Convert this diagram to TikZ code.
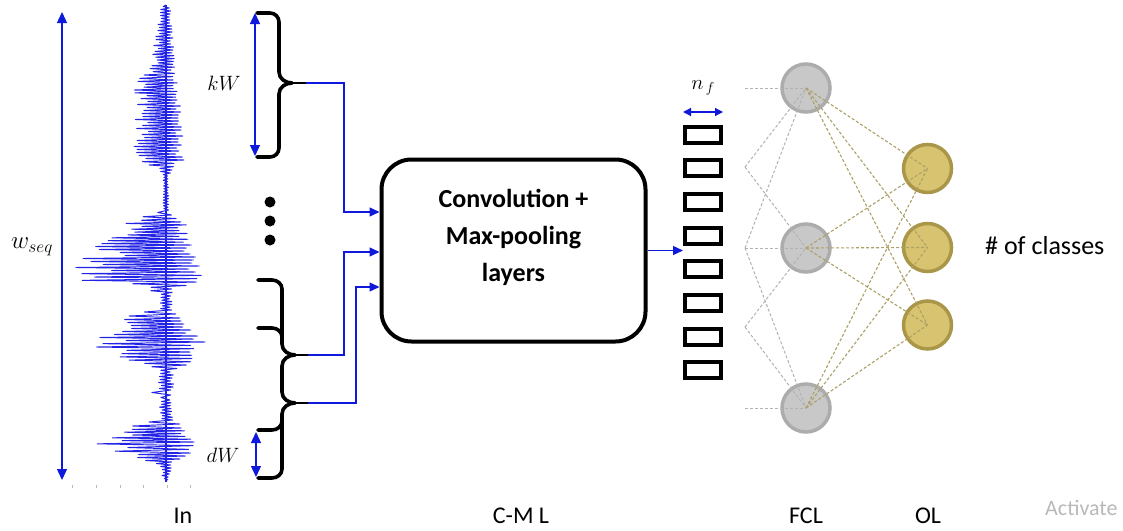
\documentclass[tikz,border=0pt]{standalone}
\usepackage{fontspec}
\setmainfont{Carlito}
\usetikzlibrary{arrows.meta}
\definecolor{wblue}{RGB}{35,35,230}
\definecolor{cblue}{RGB}{15,25,220}
\definecolor{ngray}{RGB}{200,200,200}
\definecolor{ngrayb}{RGB}{172,172,172}
\definecolor{nyel}{RGB}{216,196,112}
\definecolor{nyelb}{RGB}{170,150,72}
\definecolor{dgray}{RGB}{178,178,178}
\definecolor{dolive}{RGB}{172,160,102}
\definecolor{wmark}{RGB}{185,185,185}
\begin{document}
\begin{tikzpicture}[x=1pt,y=-1pt,
  wave/.style={draw=wblue, line width=0.95pt, line join=round},
  conn/.style={cblue, line width=1.3pt, -{Triangle[length=10pt,width=9pt]}},
  dimarrow/.style={cblue, line width=1.3pt, {Triangle[length=11pt,width=10pt]}-{Triangle[length=11pt,width=10pt]}},
  bracepath/.style={black, line width=3.6pt, line cap=round},
  bracetip/.style={black, line width=2.6pt},
  bigbox/.style={draw, line width=4pt, rounded corners=30pt, minimum width=264pt, minimum height=182pt, inner sep=0pt},
  featbox/.style={draw, line width=4pt, minimum width=36pt, minimum height=16pt, inner sep=0pt},
  fcl/.style={circle, fill=ngray, draw=ngrayb, line width=3.5pt, minimum size=48pt, inner sep=0pt},
  olnode/.style={circle, fill=nyel, draw=nyelb, line width=3.5pt, minimum size=48pt, inner sep=0pt},
  gdash/.style={dgray, line width=1pt, dash pattern=on 3pt off 2pt},
  odash/.style={dolive, line width=1.1pt, dash pattern=on 3pt off 2pt},
  lab/.style={font=\fontsize{24}{28}\selectfont, inner sep=0pt},
  boxtext/.style={font=\fontsize{26}{37}\selectfont\bfseries, align=center, inner sep=0pt},
  mlab/.style={font=\fontsize{22}{26}\selectfont, inner sep=0pt},
]
\useasboundingbox (0,0) rectangle (1123,530);

% ---------------- waveform ----------------
\pgfmathsetseed{7}
\draw[wblue, line width=1.1pt] (166,5) -- (166,482);
\draw[wave] (166,5)
  \foreach \ya/\la/\ra/\yb/\lb/\rb [evaluate=\ya as \nn using {int(max(1,(\yb-\ya)/2.8))}] in {
  5/4/4/20/8/6, 20/8/6/50/13/8, 50/13/8/70/16/9, 70/16/9/80/30/13,
  80/30/13/100/34/15, 100/34/15/130/35/17, 130/35/17/160/31/18, 160/31/18/170/10/6,
  170/10/6/176/3/3, 176/3/3/210/3/3, 210/3/3/215/12/10, 215/12/10/222/38/20,
  222/38/20/245/68/28, 245/68/28/272/98/36, 272/98/36/282/88/36, 282/88/36/289/28/10,
  289/28/10/296/5/5, 296/5/5/310/8/8, 310/8/8/318/48/24, 318/48/24/342/74/40,
  342/74/40/352/68/40, 352/68/40/365/30/22, 365/30/22/372/8/8, 372/8/8/390/9/9,
  390/9/9/395/24/9, 395/24/9/400/7/7, 400/7/7/420/7/9, 420/7/9/428/50/22,
  428/50/22/442/75/32, 442/75/32/453/62/26, 453/62/26/462/22/10, 462/22/10/468/7/7,
  468/7/7/480/3/3}{
    \foreach \i in {1,...,\nn}{
      -- ({166-(\la+(\lb-\la)*\i/\nn)*(0.5+0.5*rnd)},{\ya+(\yb-\ya)*(\i-0.5)/\nn})
      -- ({166+(\ra+(\rb-\ra)*\i/\nn)*(0.5+0.5*rnd)},{\ya+(\yb-\ya)*\i/\nn})
    }
  };
% axis ticks
\foreach \tx in {72,96,120,143,167,190}{
  \draw[wmark, line width=0.8pt] (\tx,485) -- (\tx,488);
}

% ---------------- dimension arrows and labels ----------------
\coordinate (wtop) at (62,12);
\coordinate (wbot) at (62,480);
\draw[dimarrow] (wtop) -- (wbot);
\node[font=\fontsize{26}{30}\selectfont, inner sep=0pt] (wseq) at (32,247) {$w_{seq}$};

\coordinate (kwtop) at (255,13);
\coordinate (kwbot) at (255,156);
\draw[dimarrow] (kwtop) -- (kwbot);
\node[mlab] (kw) at (224,83) {$kW$};

\coordinate (dwtop) at (256,432);
\coordinate (dwbot) at (256,477);
\draw[dimarrow] (dwtop) -- (dwbot);
\node[mlab] (dw) at (223,455) {$dW$};

% ---------------- braces ----------------
% top brace
\draw[bracepath] (257,13) -- (270,13) to[out=0,in=90] (279,22) -- (279,72) to[out=-90,in=180] (292,83);
\draw[bracepath] (292,83) to[out=180,in=90] (279,94) -- (279,148) to[out=-90,in=0] (270,157) -- (257,157);
\draw[bracetip] (290,83) -- (306,83);
\coordinate (b1) at (306,83);

% lower double brace
\draw[bracepath] (258,280) -- (272,280) to[out=0,in=90] (282,289) -- (282,344) to[out=-90,in=180] (295,355);
\draw[bracepath] (295,355) to[out=180,in=90] (282,366) -- (282,392) to[out=-90,in=180] (295,403);
\draw[bracepath] (295,403) to[out=180,in=90] (282,414) -- (282,469) to[out=-90,in=0] (272,478) -- (258,478);
\draw[bracepath] (258,328) -- (272,328) to[out=0,in=90] (282,337);
\draw[bracepath] (282,421) to[out=-90,in=0] (272,430) -- (258,430);
\draw[bracetip] (293,355) -- (308,355);
\draw[bracetip] (293,403) -- (308,403);
\coordinate (b2) at (308,355);
\coordinate (b3) at (308,403);

% dots
\fill (270,202) circle[radius=5.5pt];
\fill (270,221) circle[radius=5.5pt];
\fill (270,240) circle[radius=5.5pt];

% ---------------- convolution box ----------------
\node[bigbox] (cml) at (513.5,250.5) {};
\node[boxtext] (cmltext) at (513.5,237) {Convolution +\\Max-pooling\\layers};

\draw[conn] (b1) -- (344,83) |- ([yshift=38.5pt]cml.west);
\draw[conn] (b2) -- (344,355) |- ([yshift=-1.5pt]cml.west);
\draw[conn] (b3) -- (356,403) |- ([yshift=-36.5pt]cml.west);

% ---------------- feature vector ----------------
\foreach \k in {1,...,8}{
  \node[featbox] (f\k) at (703,{134.5+(\k-1)*33.7}) {};
}
\draw[conn] (cml.east) -- (cml.east -| f1.west);
\coordinate (nfl) at (683,112);
\coordinate (nfr) at (723,112);
\draw[cblue, line width=1.3pt, {Triangle[length=8pt,width=8pt]}-{Triangle[length=8pt,width=8pt]}] (nfl) -- (nfr);
\node[mlab] (nf) at (703,88) {$n_{\,f}$};

% ---------------- network ----------------
\node[fcl] (g1) at (806,88) {};
\node[fcl] (g2) at (806,248) {};
\node[fcl] (g3) at (806,408) {};
\node[olnode] (o1) at (927.5,168.5) {};
\node[olnode] (o2) at (927.5,247.5) {};
\node[olnode] (o3) at (927.5,325) {};

\coordinate (s1) at (745,88);
\coordinate (s2) at (745,167);
\coordinate (s3) at (745,248);
\coordinate (s4) at (745,327);
\coordinate (s5) at (745,408);
\foreach \a/\b in {s1/g1, s2/g1, s2/g2, s3/g1, s3/g2, s3/g3, s4/g2, s4/g3, s5/g3}{
  \draw[gdash] (\a) -- (\b.center);
}
\foreach \a in {g1,g2,g3}{
  \foreach \b in {o1,o2,o3}{
    \draw[odash] (\a.center) -- (\b.center);
  }
}

\node[font=\fontsize{26}{30}\selectfont, anchor=west, inner sep=0pt] (ncls) at (985,246) {\# of classes};

% ---------------- bottom labels ----------------
\node[lab, anchor=base] (lin) at (183,523) {In};
\node[lab, anchor=base] (lcml) at (521,523) {C-M L};
\node[lab, anchor=base] (lfcl) at (806,523) {FCL};
\node[lab, anchor=base] (lol) at (928,523) {OL};

\node[font=\fontsize{22}{26}\selectfont, text=wmark, anchor=base west, inner sep=0pt] (wm1) at (1045,515) {Activate};
\end{tikzpicture}
\end{document}
